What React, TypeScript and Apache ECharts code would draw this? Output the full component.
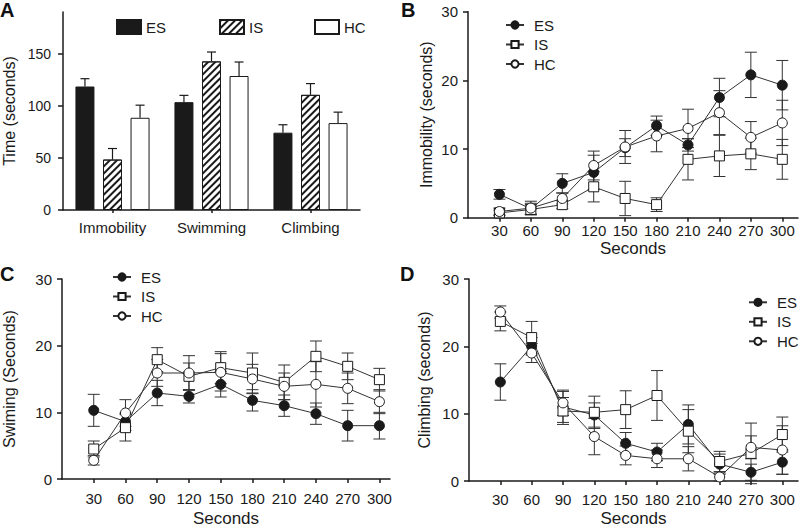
import React, { useEffect, useRef } from "react";
import * as echarts from "echarts";

const FONT = "'Liberation Sans', Arial, Helvetica, sans-serif";
const INK = "#1a1a1a";

// Panel A
const behaviours = ["Immobility", "Swimming", "Climbing"];
const aES = [118.5, 103.5, 74.2];
const aESerr = [7.5, 6.5, 7.6];
const aIS = [48.4, 142.6, 110.5];
const aISerr = [10.6, 9.0, 10.8];
const aHC = [88.5, 128.6, 83.4];
const aHCerr = [12.1, 13.4, 10.5];
const aTicks = [0, 50, 100, 150];

// Time bins
const seconds = [30, 60, 90, 120, 150, 180, 210, 240, 270, 300];

// Panel B: Immobility
const bES = [3.4, 1.3, 5.0, 6.6, 10.2, 13.4, 10.6, 17.5, 20.8, 19.3];
const bESerr = [0.7, 0.8, 1.4, 2.5, 1.3, 1.4, 0.9, 2.8, 3.3, 3.6];
const bIS = [0.7, 1.2, 1.9, 4.5, 2.8, 1.9, 8.5, 9.0, 9.3, 8.5];
const bISerr = [0.4, 0.7, 0.6, 2.2, 2.5, 1.0, 3.0, 3.0, 2.3, 2.9];
const bHC = [0.9, 1.4, 2.8, 7.6, 10.3, 11.9, 13.0, 15.3, 11.7, 13.8];
const bHCerr = [0.5, 1.0, 0.8, 2.1, 2.4, 2.3, 2.8, 3.2, 2.3, 3.3];

// Panel C: Swimming
const cES = [10.3, 8.6, 12.9, 12.4, 14.2, 11.8, 11.0, 9.8, 8.0, 8.0];
const cESerr = [2.4, 1.3, 1.9, 1.0, 1.9, 1.6, 1.6, 1.6, 2.3, 2.0];
const cIS = [4.5, 7.7, 17.9, 15.4, 16.7, 15.9, 14.5, 18.4, 16.9, 14.9];
const cISerr = [1.2, 2.0, 1.8, 2.0, 2.4, 3.0, 2.6, 2.3, 2.0, 1.7];
const cHC = [2.8, 9.9, 15.9, 15.9, 16.0, 15.0, 13.9, 14.2, 13.6, 11.6];
const cHCerr = [0.7, 2.0, 2.0, 2.6, 2.8, 2.2, 2.0, 3.4, 2.3, 1.8];

// Panel D: Climbing
const dES = [14.7, 20.0, 11.0, 9.8, 5.6, 4.3, 8.4, 2.5, 1.3, 2.8];
const dESerr = [2.7, 1.3, 2.3, 1.8, 1.6, 1.3, 2.9, 1.5, 1.2, 1.8];
const dIS = [23.7, 21.3, 10.4, 10.2, 10.6, 12.7, 7.4, 2.9, 4.1, 6.9];
const dISerr = [1.4, 2.4, 2.0, 2.4, 2.8, 3.7, 3.2, 1.5, 4.5, 2.6];
const dHC = [25.1, 19.0, 11.6, 6.6, 3.8, 3.3, 3.3, 0.6, 5.0, 4.6];
const dHCerr = [0.9, 1.4, 1.9, 2.7, 1.4, 1.3, 1.8, 0.6, 1.7, 3.6];

const BAR_W = 19;
const BAR_GAP = 0.45;

const lineStyleAxis = { color: INK, width: 1.5 };
const txt = (size: number) => ({ fontSize: size, color: INK, fontFamily: FONT });

function errLineRender(params: any, api: any) {
  const x = api.value(0);
  const lo = api.coord([x, api.value(1)]);
  const hi = api.coord([x, api.value(2)]);
  const hw = 6;
  const st = { stroke: "#333", lineWidth: 1 };
  return {
    type: "group",
    children: [
      { type: "line", shape: { x1: lo[0], y1: lo[1], x2: hi[0], y2: hi[1] }, style: st },
      { type: "line", shape: { x1: lo[0] - hw, y1: lo[1], x2: lo[0] + hw, y2: lo[1] }, style: st },
      { type: "line", shape: { x1: hi[0] - hw, y1: hi[1], x2: hi[0] + hw, y2: hi[1] }, style: st },
    ],
  };
}

function errBarRender(params: any, api: any) {
  const cat = api.value(0);
  const k = api.value(3);
  const base = api.coord([cat, api.value(1)]);
  const top = api.coord([cat, api.value(2)]);
  const off = (k - 1) * BAR_W * (1 + BAR_GAP);
  const x = base[0] + off;
  const hw = 4.5;
  const st = { stroke: INK, lineWidth: 1.2 };
  return {
    type: "group",
    children: [
      { type: "line", shape: { x1: x, y1: base[1], x2: x, y2: top[1] }, style: st },
      { type: "line", shape: { x1: x - hw, y1: top[1], x2: x + hw, y2: top[1] }, style: st },
    ],
  };
}

const groups = [
  { key: "ES", symbol: "circle", fill: INK },
  { key: "IS", symbol: "rect", fill: "#fff" },
  { key: "HC", symbol: "circle", fill: "#fff" },
];

function timeSeries(panel: string, idx: number, vals: number[][], errs: number[][]) {
  const out: any[] = [];
  groups.forEach((g, gi) => {
    out.push({
      type: "custom",
      name: "err" + g.key + panel,
      xAxisIndex: idx,
      yAxisIndex: idx,
      z: 1,
      silent: true,
      renderItem: errLineRender,
      encode: { x: 0, y: [1, 2] },
      data: seconds.map((s, i) => [s, vals[gi][i] - errs[gi][i], vals[gi][i] + errs[gi][i]]),
    });
  });
  groups.forEach((g, gi) => {
    out.push({
      type: "line",
      name: g.key + "|" + panel,
      xAxisIndex: idx,
      yAxisIndex: idx,
      z: 3,
      symbol: g.symbol,
      symbolSize: 10,
      showAllSymbol: true,
      lineStyle: { color: "#333", width: 1 },
      itemStyle: { color: g.fill, borderColor: INK, borderWidth: 1 },
      data: seconds.map((s, i) => [s, vals[gi][i]]),
    });
  });
  return out;
}

function timeXAxis(idx: number, max: number, margin: number, nameGap: number) {
  return {
    type: "value",
    gridIndex: idx,
    min: 0,
    max,
    name: "Seconds",
    nameLocation: "middle",
    nameGap,
    nameTextStyle: txt(17),
    axisLine: { show: true, onZero: false, lineStyle: lineStyleAxis },
    axisTick: { show: true, length: 4, customValues: seconds, lineStyle: lineStyleAxis },
    axisLabel: { customValues: seconds, margin, ...txt(15) },
    splitLine: { show: false },
  };
}

function timeYAxis(idx: number, name: string, nameGap: number) {
  return {
    type: "value",
    gridIndex: idx,
    min: 0,
    max: 30,
    interval: 10,
    name,
    nameLocation: "middle",
    nameGap,
    nameTextStyle: txt(16),
    axisLine: { show: true, lineStyle: lineStyleAxis },
    axisTick: { show: true, length: 5, lineStyle: lineStyleAxis },
    axisLabel: { margin: 10, ...txt(15) },
    splitLine: { show: false },
  };
}

function lineLegend(panel: string, left: number, top: number) {
  return {
    orient: "vertical",
    left,
    top,
    selectedMode: false,
    itemWidth: 18,
    itemHeight: 9,
    itemGap: 2.5,
    data: groups.map((g) => g.key + "|" + panel),
    formatter: (n: string) => n.split("|")[0],
    textStyle: { ...txt(15), lineHeight: 17, padding: [0, 0, 0, 5] },
  };
}

export default function App() {
  const ref = useRef<HTMLDivElement>(null);
  useEffect(() => {
    if (!ref.current) return;
    const chart = echarts.init(ref.current, null, { renderer: "svg" });

    const hatch = {
      symbol: "rect",
      symbolSize: 1,
      color: INK,
      dashArrayX: [1, 0],
      dashArrayY: [2, 3],
      rotation: -Math.PI / 4,
    };

    const barDefs = [
      { key: "ES", vals: aES, errs: aESerr, style: { color: INK, borderColor: INK, borderWidth: 1 } },
      { key: "IS", vals: aIS, errs: aISerr, style: { color: "#fff", borderColor: INK, borderWidth: 1, decal: hatch } },
      { key: "HC", vals: aHC, errs: aHCerr, style: { color: "#fff", borderColor: INK, borderWidth: 1 } },
    ];

    const series: any[] = [];
    barDefs.forEach((b) => {
      series.push({
        type: "bar",
        name: b.key + "|A",
        xAxisIndex: 0,
        yAxisIndex: 0,
        barWidth: BAR_W,
        barGap: BAR_GAP * 100 + "%",
        itemStyle: b.style,
        data: b.vals,
      });
    });
    series.push({
      type: "custom",
      name: "errA",
      xAxisIndex: 0,
      yAxisIndex: 0,
      z: 4,
      silent: true,
      renderItem: errBarRender,
      encode: { x: 0, y: [1, 2] },
      data: barDefs.flatMap((b, k) => b.vals.map((v, i) => [i, v, v + b.errs[i], k])),
    });
    series.push(...timeSeries("B", 1, [bES, bIS, bHC], [bESerr, bISerr, bHCerr]));
    series.push(...timeSeries("C", 2, [cES, cIS, cHC], [cESerr, cISerr, cHCerr]));
    series.push(...timeSeries("D", 3, [dES, dIS, dHC], [dESerr, dISerr, dHCerr]));

    const barLegend = (key: string, left: number) => ({
      left,
      top: 14,
      selectedMode: false,
      icon: "rect",
      itemWidth: 24,
      itemHeight: 14,
      data: [key + "|A"],
      formatter: (n: string) => n.split("|")[0],
      textStyle: txt(15),
    });

    const option: any = {
      animation: false,
      backgroundColor: "#fff",
      textStyle: { fontFamily: FONT },
      grid: [
        { left: 62, top: 12, width: 298, height: 198 },
        { left: 468, top: 11.7, width: 330, height: 206 },
        { left: 61, top: 279, width: 329, height: 206 },
        { left: 469, top: 279, width: 329, height: 206 },
      ],
      xAxis: [
        {
          type: "category",
          gridIndex: 0,
          data: behaviours,
          axisLine: { show: true, lineStyle: lineStyleAxis },
          axisTick: { show: true, alignWithLabel: true, length: 3, lineStyle: lineStyleAxis },
          axisLabel: { margin: 10, ...txt(15) },
        },
        timeXAxis(1, 315, 5, 22),
        timeXAxis(2, 310, 12, 31),
        timeXAxis(3, 315, 11, 29),
      ],
      yAxis: [
        {
          type: "value",
          gridIndex: 0,
          min: 0,
          max: 190,
          name: "Time (seconds)",
          nameLocation: "middle",
          nameGap: 46,
          nameTextStyle: txt(16),
          axisLine: { show: true, lineStyle: lineStyleAxis },
          axisTick: { show: true, length: 5, customValues: aTicks, lineStyle: lineStyleAxis },
          axisLabel: { customValues: aTicks, margin: 12, ...txt(14) },
          splitLine: { show: false },
        },
        timeYAxis(1, "Immobility (seconds)", 34),
        timeYAxis(2, "Swiming (Seconds)", 45),
        timeYAxis(3, "Climbing (seconds)", 37),
      ],
      legend: [
        barLegend("ES", 111),
        barLegend("IS", 214),
        barLegend("HC", 309),
        lineLegend("B", 500, 11.5),
        lineLegend("C", 107, 263.5),
        lineLegend("D", 743, 288.8),
      ],
      graphic: [
        { type: "text", left: 0, top: 0, style: { text: "A", font: `bold 20px ${FONT}`, fill: "#111" } },
        { type: "text", left: 401, top: 0, style: { text: "B", font: `bold 20px ${FONT}`, fill: "#111" } },
        { type: "text", left: 0, top: 264, style: { text: "C", font: `bold 20px ${FONT}`, fill: "#111" } },
        { type: "text", left: 400, top: 264, style: { text: "D", font: `bold 20px ${FONT}`, fill: "#111" } },
      ],
      series,
    };
    chart.setOption(option);
    return () => chart.dispose();
  }, []);
  return (
    <div
      ref={ref}
      style={{ position: "absolute", left: 0, top: 0, width: 800, height: 528, background: "#fff" }}
    />
  );
}
